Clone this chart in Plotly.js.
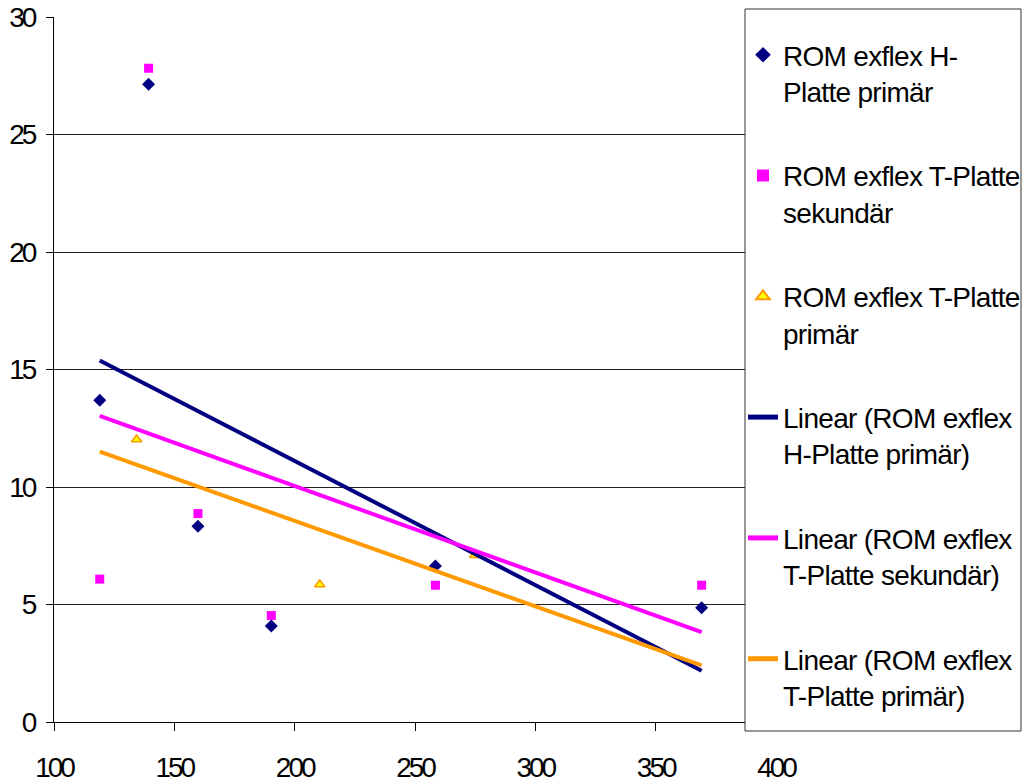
<!DOCTYPE html>
<html>
<head>
<meta charset="utf-8">
<script src="https://cdn.plot.ly/plotly-3.0.1.min.js"></script>
<style>
html,body{margin:0;padding:0;background:#fff;}
.legendtext{letter-spacing:-0.7px;}
.xtick text,.ytick text{letter-spacing:-3px;}
</style>
</head>
<body>
<div id="chart" style="width:1026px;height:782px;"></div>
<script>
// Series data
const hX = [119, 139.3, 159.8, 190.3, 258.5, 369.1];
const hY = [13.69, 27.14, 8.33, 4.09, 6.64, 4.86];
const tsX = [119, 139.3, 159.8, 190.3, 258.5, 369.1];
const tsY = [6.08, 27.82, 8.87, 4.53, 5.82, 5.82];
const tpX = [134.3, 210.4, 274.8];
const tpY = [12.02, 5.85, 7.1];

const names = [
  "ROM exflex H-<br>Platte primär",
  "ROM exflex T-Platte<br>sekundär",
  "ROM exflex T-Platte<br>primär",
  "Linear (ROM exflex<br>H-Platte primär)",
  "Linear (ROM exflex<br>T-Platte sekundär)",
  "Linear (ROM exflex<br>T-Platte primär)"
];
const xTicks = [100, 150, 200, 250, 300, 350, 400];
const yTicks = [0, 5, 10, 15, 20, 25, 30];

// least-squares linear trend (as the chart's "Linear" trendlines)
function fit(xs, ys) {
  const n = xs.length;
  const mx = xs.reduce((a, b) => a + b, 0) / n;
  const my = ys.reduce((a, b) => a + b, 0) / n;
  let sxy = 0, sxx = 0;
  for (let i = 0; i < n; i++) { sxy += (xs[i] - mx) * (ys[i] - my); sxx += (xs[i] - mx) * (xs[i] - mx); }
  const b = sxy / sxx;
  return x => my + b * (x - mx);
}
const allX = hX.concat(tsX, tpX);
const trendRange = [Math.min(...allX), Math.max(...allX)];
const fH = fit(hX, hY), fTS = fit(tsX, tsY), fTP = fit(tpX, tpY);

const navy = "#000080", magenta = "#FF00FF", orange = "#FF9900";

const traces = [
  {x: hX, y: hY, mode: "markers", type: "scatter", name: names[0], legendgroup: "a",
   marker: {symbol: "diamond", size: 10, color: navy}},
  {x: tsX, y: tsY, mode: "markers", type: "scatter", name: names[1], legendgroup: "b",
   marker: {symbol: "square", size: 9, color: magenta}},
  {x: tpX, y: tpY, mode: "markers", type: "scatter", name: names[2], legendgroup: "c",
   marker: {symbol: "triangle-up", size: 9, color: "#FFFF00", line: {color: orange, width: 1.5}}},
  {x: trendRange, y: trendRange.map(fH), mode: "lines", type: "scatter", name: names[3], legendgroup: "d",
   line: {color: navy, width: 4}},
  {x: trendRange, y: trendRange.map(fTS), mode: "lines", type: "scatter", name: names[4], legendgroup: "e",
   line: {color: magenta, width: 4}},
  {x: trendRange, y: trendRange.map(fTP), mode: "lines", type: "scatter", name: names[5], legendgroup: "f",
   line: {color: orange, width: 4}}
];

const L = 54, R = 250, T = 17, B = 60, W = 1026, H = 782;
const pw = W - L - R, ph = H - T - B;
const px = v => (v - L) / pw;
const py = v => (H - B - v) / ph;

const layout = {
  width: W, height: H,
  margin: {l: L, r: R, t: T, b: B, pad: 0, autoexpand: false},
  paper_bgcolor: "#fff", plot_bgcolor: "#fff",
  font: {family: "Liberation Sans, Arial, sans-serif", color: "#000", size: 28},
  showlegend: true,
  xaxis: {
    range: [100, 400], tickvals: xTicks, ticktext: xTicks.map(String),
    showgrid: false, zeroline: false, showline: true, linecolor: "#000", linewidth: 1,
    ticks: "outside", ticklen: 8, tickcolor: "#000", tickwidth: 1,
    ticklabelstandoff: 12, tickfont: {size: 28}, fixedrange: true, automargin: false
  },
  yaxis: {
    range: [0, 30], tickvals: yTicks, ticktext: yTicks.map(String),
    showgrid: true, gridcolor: "#222", gridwidth: 1, zeroline: false,
    showline: true, linecolor: "#000", linewidth: 1,
    ticks: "outside", ticklen: 7, tickcolor: "#000", tickwidth: 1,
    ticklabelstandoff: 6, tickfont: {size: 28}, fixedrange: true, automargin: false
  },
  legend: {
    x: px(743), xanchor: "left", y: py(30), yanchor: "top",
    bgcolor: "rgba(0,0,0,0)", borderwidth: 0,
    font: {size: 28, family: "Liberation Sans, Arial, sans-serif"},
    valign: "top", tracegroupgap: 45, itemsizing: "constant"
  },
  shapes: [
    {type: "rect", xref: "paper", yref: "paper", x0: px(745), x1: px(1021), y0: py(731), y1: py(9),
     fillcolor: "#fff", line: {color: "#333", width: 1}, layer: "above"}
  ]
};

Plotly.newPlot("chart", traces, layout, {displayModeBar: false, staticPlot: true});
</script>
</body>
</html>
